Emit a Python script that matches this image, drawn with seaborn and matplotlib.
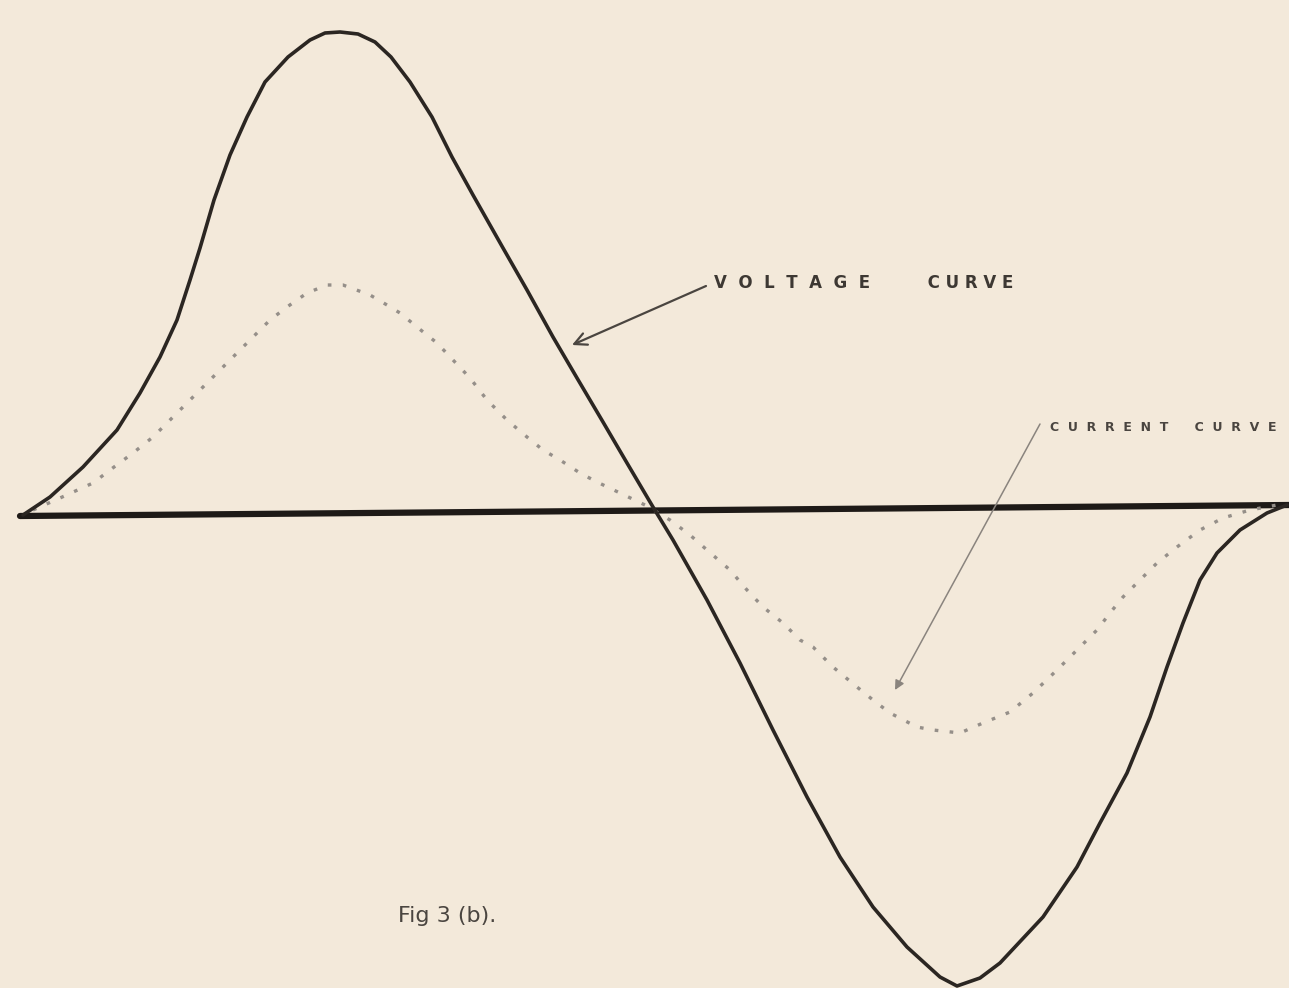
import numpy as np
import pandas as pd
import matplotlib
matplotlib.use("Agg")
import matplotlib.pyplot as plt
import seaborn as sns

# values (horizontal position, height in drawing units, y grows downwards)
volt_x = [23, 50, 83, 117, 140, 160, 177, 190, 200, 214, 230, 247, 265, 288, 310, 325, 340,
          358, 375, 391, 410, 432, 452, 473, 503, 527, 553, 577, 603, 627, 653,
          673, 707, 740, 773, 807, 840, 873, 907, 940, 957, 980, 1000, 1043, 1077, 1100,
          1127, 1150, 1167, 1183, 1200, 1217, 1240, 1267, 1287]
volt_y = [515, 497, 467, 430, 393, 357, 320, 280, 248, 200, 155, 117, 82, 57, 40, 33, 32,
          34, 42, 57, 82, 117, 157, 195, 248, 290, 337, 378, 422, 463, 507,
          540, 600, 663, 730, 797, 857, 907, 947, 977, 986, 978, 963, 917, 867, 823,
          773, 717, 667, 623, 580, 553, 530, 513, 505]

curr_x = [33, 60, 93, 110, 133, 153, 170, 187, 207, 223, 240, 257, 270, 287, 307, 327, 343,
          370, 387, 400, 417, 437, 453, 470, 487, 507, 527, 543, 560, 580, 597, 620, 645,
          670, 690, 707, 730, 747, 763, 783, 800, 813, 833, 857, 873, 890, 917, 933, 960,
          983, 1010, 1033, 1057, 1077, 1097, 1110, 1123, 1140, 1157, 1177, 1200, 1223,
          1250, 1277]
curr_y = [510, 498, 483, 470, 453, 437, 420, 403, 383, 367, 350, 333, 320, 307, 293, 285, 285,
          295, 305, 313, 327, 343, 360, 378, 400, 420, 437, 450, 460, 473, 482, 493, 505,
          520, 535, 550, 570, 590, 607, 623, 640, 647, 667, 687, 700, 713, 727, 730, 733,
          723, 712, 693, 670, 650, 630, 613, 597, 580, 563, 547, 530, 518,
          510, 505]

axis_x = [20, 1289]
axis_y = [516, 505]

labels = ["V  O  L  T  A  G  E          C U R V E",
          "C  U  R  R  E  N  T      C  U  R  V  E",
          "Fig 3 (b)."]

sns.set_theme(style="white")
plt.rcParams["font.family"] = ["DejaVu Sans"]

paper = "#f3e9da"
ink = "#2b2622"

fig = plt.figure(figsize=(12.89, 9.88), dpi=100, facecolor=paper)
ax = fig.add_axes([0, 0, 1, 1])
ax.set_facecolor(paper)

volt = pd.DataFrame({"x": volt_x, "y": volt_y})
curr = pd.DataFrame({"x": curr_x, "y": curr_y})
base = pd.DataFrame({"x": axis_x, "y": axis_y})

sns.lineplot(data=base, x="x", y="y", ax=ax, color="#1e1a17", linewidth=4.5, sort=False)
sns.lineplot(data=curr, x="x", y="y", ax=ax, color="#958f89", linewidth=2.4,
             linestyle=(0, (1.1, 3.4)), sort=False)
sns.lineplot(data=volt, x="x", y="y", ax=ax, color=ink, linewidth=2.6, sort=False)

# labels and their pointer arrows
ax.text(714, 283, labels[0], fontsize=12, color="#3d3833", fontweight="bold",
        va="center", ha="left")
ax.annotate("", xy=(572, 345), xytext=(706, 286),
            arrowprops=dict(arrowstyle="->", color="#4a4540", lw=1.6, mutation_scale=22,
                            shrinkA=0, shrinkB=0))
ax.text(1050, 427, labels[1], fontsize=9, color="#4a4540", fontweight="bold",
        va="center", ha="left")
ax.annotate("", xy=(895, 690), xytext=(1040, 424),
            arrowprops=dict(arrowstyle="-|>", color="#8a847e", lw=1.1, mutation_scale=14,
                            shrinkA=0, shrinkB=0))
ax.text(398, 916, labels[2], fontsize=16, color="#4a4540", va="center", ha="left")

ax.set_xlim(0, 1289)
ax.set_ylim(988, 0)
ax.set_xlabel("")
ax.set_ylabel("")
ax.set_xticks([])
ax.set_yticks([])
for s in ax.spines.values():
    s.set_visible(False)

fig.savefig("out.png", dpi=100, facecolor=paper)
